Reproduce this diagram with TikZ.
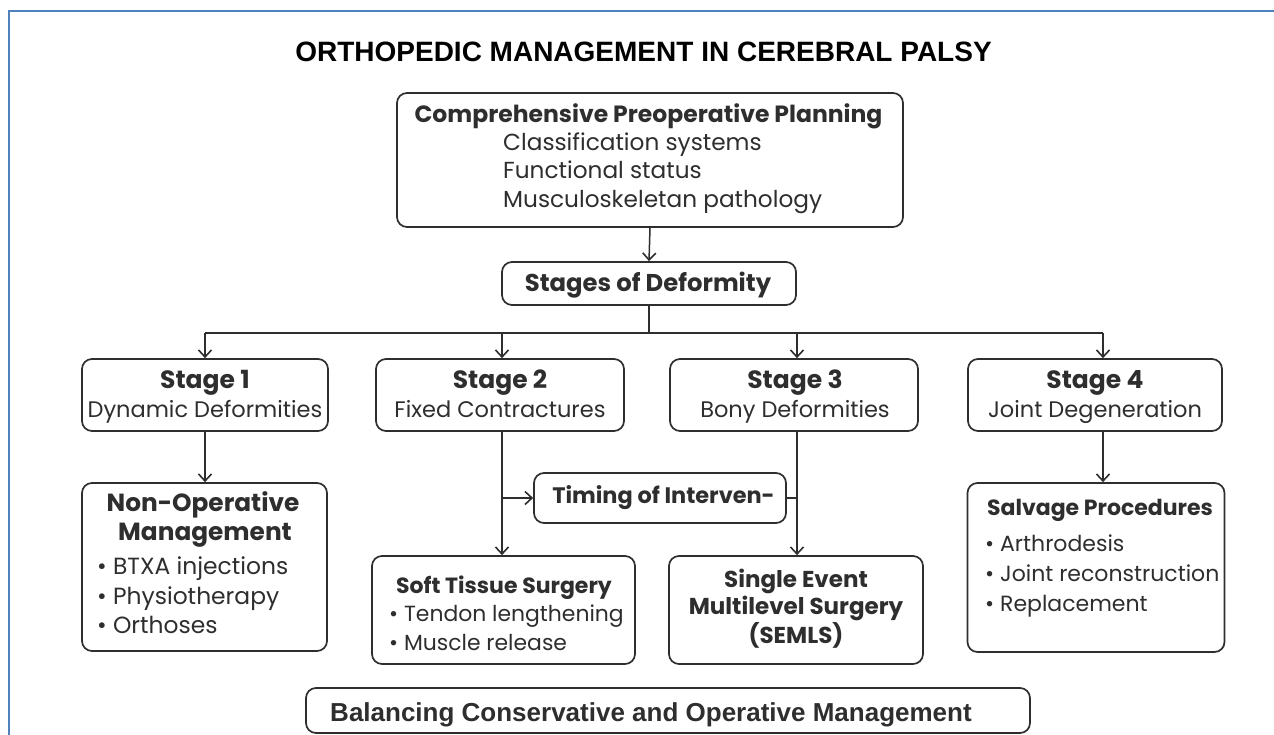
\documentclass[tikz,border=0pt]{standalone}
\usepackage{fontspec}
\usepackage{graphicx}
\setmainfont{Poppins}
\newfontfamily\titlefont{Liberation Sans}
\usetikzlibrary{arrows.meta}
\definecolor{frameblue}{HTML}{4F81BD}
\definecolor{ink}{HTML}{2E2E2E}
\begin{document}
\begin{tikzpicture}[x=1pt,y=-1pt,
  box/.style={draw=ink, line width=1.7pt, rounded corners=10pt, inner sep=0pt},
  conn/.style={draw=ink, line width=1.5pt},
  arr/.style={conn, -{Straight Barb[length=7pt,width=13pt,line width=1.6pt]}},
  txt/.style={text=ink, inner sep=0pt, text height=19pt, text depth=4pt},
  body/.style={txt, font=\fontsize{#1}{#1}\selectfont},
  body/.default=22,
  head/.style={txt, font=\bfseries\fontsize{#1}{#1}\selectfont},
  head/.default=22.5,
  ttl/.style={txt, font=\titlefont\bfseries\fontsize{28}{30}\selectfont, text=black, text height=22pt, text depth=2pt},
]
\fill[white] (0,0) rectangle (1274,735);
\useasboundingbox (0,0) rectangle (1274,735);
\draw[frameblue, line width=2pt] (9,735) -- (9,11) -- (1274,11);

\node[ttl] (title) at (643.5,52) {ORTHOPEDIC MANAGEMENT IN CEREBRAL PALSY};

% planning box
\node[box, minimum width=506pt, minimum height=134pt] (plan) at (650,160) {};
\node[head=23.5] (planh) at (648.5,115) {Comprehensive Preoperative Planning};
\node[body=23.2, anchor=west] (plan1) at (503,143) {Classification systems};
\node[body=23.2, anchor=west] (plan2) at (503,171) {Functional status};
\node[body=23.2, anchor=west] (plan3) at (503,200) {Musculoskeletan pathology};

% stages
\node[box, minimum width=294pt, minimum height=43pt] (stages) at (649,283.5) {};
\node[head=24.3] (stagest) at (648,283.5) {Stages of Deformity};

% stage boxes
\node[box, minimum width=246pt, minimum height=72pt] (s1) at (205,395) {};
\node[head=25] (s1h) at (205,381) {Stage 1};
\node[body=22.5] (s1t) at (205,410) {Dynamic Deformities};
\node[box, minimum width=248pt, minimum height=72pt] (s2) at (500,395) {};
\node[head=25] (s2h) at (500,381) {Stage 2};
\node[body=22.5] (s2t) at (500,410) {Fixed Contractures};
\node[box, minimum width=248pt, minimum height=72pt] (s3) at (794,395) {};
\node[head=25] (s3h) at (795,381) {Stage 3};
\node[body=22.5] (s3t) at (795,410) {Bony Deformities};
\node[box, minimum width=254pt, minimum height=72pt] (s4) at (1095,395) {};
\node[head=25] (s4h) at (1095,381) {Stage 4};
\node[body=22.5] (s4t) at (1095,410) {Joint Degeneration};

% non-operative
\node[box, minimum width=245pt, minimum height=168pt] (nonop) at (204.5,567) {};
\node[head=24.8] (nonoph1) at (203,504) {Non-Operative};
\node[head=24.8] (nonoph2) at (205,533) {Management};
\node[body=23.4, anchor=west] (nonop1) at (97,567) {\textbullet\ BTXA injections};
\node[body=23.4, anchor=west] (nonop2) at (97,597) {\textbullet\ Physiotherapy};
\node[body=23.4, anchor=west] (nonop3) at (97,626) {\textbullet\ Orthoses};

% timing
\node[box, minimum width=252pt, minimum height=50pt] (timing) at (660,498) {};
\node[head=22.4] (timingt) at (663.5,496) {Timing of Interven-};

% soft tissue
\node[box, minimum width=263pt, minimum height=108pt] (soft) at (503.5,610) {};
\node[head=22] (softh) at (504,586) {Soft Tissue Surgery};
\node[body=21.9, anchor=west] (soft1) at (389,614) {\textbullet\ Tendon lengthening};
\node[body=21.9, anchor=west] (soft2) at (389,643) {\textbullet\ Muscle release};

% SEMLS
\node[box, minimum width=254pt, minimum height=108pt] (semls) at (796,610) {};
\node[head=23] (semls1) at (796,580) {Single Event};
\node[head=23] (semls2) at (796,607) {Multilevel Surgery};
\node[head=23] (semls3) at (796,636) {(SEMLS)};

% salvage
\node[box, minimum width=257pt, minimum height=169pt] (salv) at (1096,567.5) {};
\node[head=22] (salvh) at (1100,508) {Salvage Procedures};
\node[body=22, anchor=west] (salv1) at (985,544) {\textbullet\ Arthrodesis};
\node[body=22, anchor=west] (salv2) at (985,574) {\textbullet\ Joint reconstruction};
\node[body=22, anchor=west] (salv3) at (985,604) {\textbullet\ Replacement};

% bottom
\node[box, minimum width=724pt, minimum height=45pt] (bal) at (668,710.5) {};
\node[ttl, font=\titlefont\bfseries\fontsize{26}{28}\selectfont, text=ink] (balt) at (651,711) {Balancing Conservative and Operative Management};

% connectors
\draw[arr] (plan.south) -- (stages.north);
\coordinate (j) at (649,333);
\coordinate (j1) at (205,333);
\coordinate (j2) at (502,333);
\coordinate (j3) at (797,333);
\coordinate (j4) at (1103,333);
\draw[conn] (stages.south) -- (j);
\draw[conn] (j1) -- (j4);
\draw[arr] (j1) -- (s1.north -| j1);
\draw[arr] (j2) -- (s2.north -| j2);
\draw[arr] (j3) -- (s3.north -| j3);
\draw[arr] (j4) -- (s4.north -| j4);
\draw[arr] (s1.south -| j1) -- (nonop.north -| j1);
\draw[arr] (s2.south -| j2) -- (soft.north -| j2);
\draw[arr] (s3.south -| j3) -- (semls.north -| j3);
\draw[arr] (s4.south -| j4) -- (salv.north -| j4);
\draw[arr] (timing.west -| j2) -- (timing.west);
\draw[conn] (timing.east) -- (timing.east -| j3);
\end{tikzpicture}
\end{document}
